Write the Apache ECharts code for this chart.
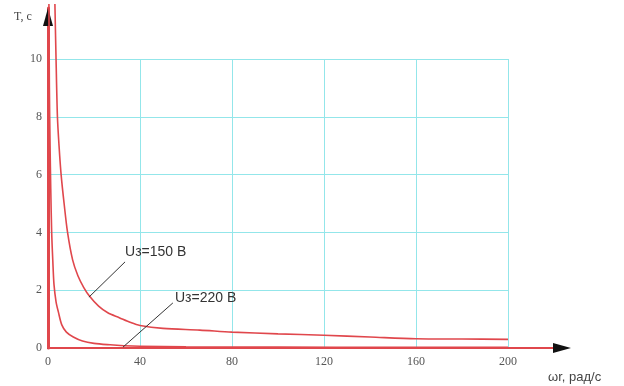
<!DOCTYPE html>
<html>
<head>
<meta charset="utf-8">
<script src="https://cdn.jsdelivr.net/npm/echarts@6/dist/echarts.min.js"></script>
<style>
  html, body { margin: 0; padding: 0; background: #fff; }
  #chart { width: 624px; height: 386px; }
</style>
</head>
<body>
<div id="chart"></div>
<script>
// Time T (s) versus speed ωr (rad/s) for two supply voltages
const omega150 = [3.0, 3.5, 4.1, 4.8, 5.7, 7.0, 8.5, 10.7, 13, 15.5, 18, 22, 26, 31, 36, 40, 50, 66, 80, 100, 120, 140, 160, 180, 200];
const t150     = [11.9, 10, 8, 7, 6, 5, 4, 3.05, 2.5, 2.1, 1.8, 1.45, 1.22, 1.05, 0.88, 0.78, 0.68, 0.62, 0.55, 0.49, 0.44, 0.38, 0.32, 0.31, 0.30];

const omega220 = [0.4, 0.6, 0.9, 1.2, 1.6, 2.1, 2.6, 3.5, 4.5, 6, 8, 11, 15, 20, 27, 33, 40, 60, 100, 150, 200];
const t220     = [11.9, 9, 7, 5.5, 4, 3, 2.2, 1.6, 1.25, 0.8, 0.55, 0.38, 0.24, 0.16, 0.11, 0.08, 0.06, 0.04, 0.03, 0.02, 0.02];

const xTicks = [0, 40, 80, 120, 160, 200];
const yTicks = [0, 2, 4, 6, 8, 10];

// Callout text and leader line ends, in data units
const label150 = { text: 'Uз=150 В', at: [33.5, 3.3], from: [33.5, 2.98], to: [17.8, 1.76] };
const label220 = { text: 'Uз=220 В', at: [55.2, 1.73], from: [54.3, 1.56], to: [32.6, 0.03] };

const RED = '#e0474c';
const GRIDC = '#93e6ea';
const tickFont = { fontFamily: 'Liberation Serif', fontSize: 12, color: '#555' };

function pairs(xs, ys) { return xs.map((x, i) => [x, ys[i]]); }

function callout(c) {
  return {
    markLine: {
      silent: true,
      symbol: 'none',
      animation: false,
      label: { show: false },
      lineStyle: { color: '#333', width: 1, type: 'solid' },
      data: [[{ coord: c.from }, { coord: c.to }]]
    },
    markPoint: {
      silent: true,
      symbol: 'circle',
      symbolSize: 0,
      animation: false,
      label: {
        show: true, position: 'right', distance: 0,
        formatter: c.text,
        fontFamily: 'Liberation Sans', fontSize: 14, color: '#333'
      },
      data: [{ coord: c.at }]
    }
  };
}

const chart = echarts.init(document.getElementById('chart'));

// Bare axis used only to draw an axis line (and optionally an arrow head)
const plainAxis = (gridIndex, lineColor, width, symbol) => ({
  gridIndex, type: 'value', min: 0, max: 1,
  axisLine: { show: true, onZero: false, symbol: symbol, symbolSize: [10, 18],
              lineStyle: { color: lineColor, width: width } },
  axisTick: { show: false }, axisLabel: { show: false }, splitLine: { show: false }
});

chart.setOption({
  animation: false,
  backgroundColor: '#fff',
  grid: [
    { left: 48, right: 116, top: 59, bottom: 38 },   // plotting area
    { left: 48, right: 62, top: 17, bottom: 38 },    // arrow heads
    { left: 48, right: 69, top: 8, bottom: 38 }      // red axis lines
  ],
  xAxis: [
    {
      gridIndex: 0, type: 'value', min: 0, max: 200, interval: 40,
      axisLine: { show: false },
      axisTick: { show: false },
      axisLabel: Object.assign({ margin: 8, customValues: xTicks }, tickFont),
      splitLine: { show: true, lineStyle: { color: GRIDC, width: 1 } }
    },
    plainAxis(1, '#111', 1, ['none', 'triangle']),
    plainAxis(2, RED, 2, 'none')
  ],
  yAxis: [
    {
      gridIndex: 0, type: 'value', min: 0, max: 10, interval: 2,
      axisLine: { show: false },
      axisTick: { show: false },
      axisLabel: Object.assign({ margin: 6, customValues: yTicks }, tickFont),
      splitLine: { show: true, lineStyle: { color: GRIDC, width: 1 } }
    },
    plainAxis(1, '#111', 1, ['none', 'triangle']),
    plainAxis(2, RED, 3, 'none')
  ],
  graphic: [
    { type: 'text', left: 14, top: 11,
      style: { text: 'T, с', font: '12px "Liberation Serif"', fill: '#444' } },
    { type: 'text', left: 548, top: 371,
      style: { text: 'ωr, рад/с', font: '13px "Liberation Sans"', fill: '#444' } }
  ],
  series: [
    Object.assign({
      name: 'Uз=150 В', type: 'line', xAxisIndex: 0, yAxisIndex: 0,
      data: pairs(omega150, t150), showSymbol: false, clip: false, smooth: 0.3,
      lineStyle: { color: RED, width: 1.6 }, z: 3
    }, callout(label150)),
    Object.assign({
      name: 'Uз=220 В', type: 'line', xAxisIndex: 0, yAxisIndex: 0,
      data: pairs(omega220, t220), showSymbol: false, clip: false, smooth: 0.3,
      lineStyle: { color: RED, width: 1.6 }, z: 3
    }, callout(label220))
  ]
});
</script>
</body>
</html>
